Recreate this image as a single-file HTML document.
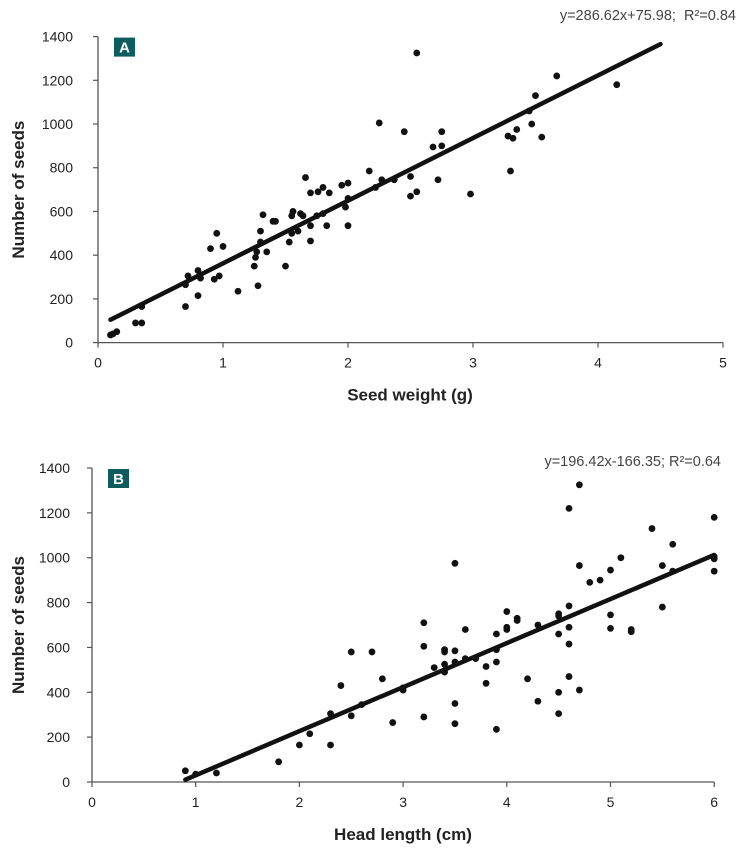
<!DOCTYPE html>
<html><head><meta charset="utf-8"><style>
body{margin:0;background:#fff;width:750px;height:846px;overflow:hidden}
svg{font-family:"Liberation Sans",sans-serif}
</style></head><body>
<svg id="chart" width="750" height="846" viewBox="0 0 750 846" xmlns="http://www.w3.org/2000/svg"></svg>
<script>
const ticksAX=[0,1,2,3,4,5];
const ticksY=[0,200,400,600,800,1000,1200,1400];
const ticksBX=[0,1,2,3,4,5,6];
const aWeight=[0.1,0.12,0.15,0.3,0.35,0.35,0.7,0.7,0.72,0.8,0.8,0.82,0.9,0.95,0.93,0.97,1.0,1.12,1.25,1.26,1.27,1.28,1.3,1.3,1.32,1.35,1.4,1.42,1.5,1.53,1.55,1.56,1.55,1.6,1.62,1.64,1.66,1.7,1.7,1.7,1.75,1.76,1.8,1.8,1.83,1.85,1.95,1.98,2.0,2.0,2.0,2.17,2.22,2.25,2.27,2.37,2.45,2.5,2.5,2.55,2.55,2.68,2.72,2.75,2.75,2.98,3.28,3.3,3.32,3.35,3.45,3.47,3.5,3.55,3.67,4.15];
const aSeeds=[35,40,50,90,90,165,165,265,305,215,330,295,430,500,290,305,440,235,350,390,415,260,460,510,585,415,555,555,350,460,500,600,580,510,590,580,755,465,535,685,580,690,710,590,535,685,720,620,535,660,730,785,710,1005,745,745,965,670,760,690,1325,895,745,965,900,680,945,785,935,975,1060,1000,1130,940,1220,1180];
const bLength=[0.9,1.0,1.2,1.8,2.0,2.1,2.3,2.3,2.4,2.5,2.5,2.6,2.7,2.8,2.9,3.0,3.0,3.2,3.2,3.2,3.3,3.4,3.4,3.4,3.4,3.5,3.5,3.5,3.5,3.5,3.6,3.6,3.7,3.8,3.8,3.9,3.9,3.9,3.9,4.0,4.0,4.0,4.1,4.1,4.2,4.3,4.3,4.5,4.5,4.5,4.5,4.5,4.6,4.6,4.6,4.6,4.6,4.7,4.7,4.7,4.8,4.9,5.0,5.0,5.0,5.1,5.2,5.2,5.4,5.5,5.5,5.6,5.6,6.0,6.0,6.0,6.0];
const bSeeds=[50,35,40,90,165,215,165,305,430,580,295,345,580,460,265,410,420,710,605,290,510,580,590,525,490,975,585,535,350,260,680,550,550,515,440,660,590,535,235,760,680,690,720,730,460,700,360,750,740,660,400,305,1220,785,690,615,470,1325,965,410,890,900,945,745,685,1000,680,670,1130,965,780,1060,940,1180,1005,995,940];
const fitA=[286.62,75.98], fitB=[196.42,-166.35];
const rangeA=[0.1,4.5], rangeB=[0.9,6];

const svg=document.getElementById('chart');
const NS='http://www.w3.org/2000/svg';
function mk(tag,attrs,parent){const e=document.createElementNS(NS,tag);for(const k in attrs)e.setAttribute(k,attrs[k]);(parent||svg).appendChild(e);return e;}

function panel(cfg){
  const g=mk('g',{});
  
  
  const sx=v=>cfg.x0+v*cfg.xs, sy=v=>cfg.y0-v*cfg.ys;
  const xMax=cfg.xt[cfg.xt.length-1];
  const ya=mk('line',{x1:cfg.x0,y1:sy(1400),x2:cfg.x0,y2:cfg.y0,stroke:'#555','stroke-width':1.3},g);
  
  const xa=mk('line',{x1:cfg.x0,y1:cfg.y0,x2:sx(xMax),y2:cfg.y0,stroke:'#555','stroke-width':1.3},g);
  
  ticksY.forEach(t=>{
    mk('line',{x1:cfg.x0-5,y1:sy(t),x2:cfg.x0,y2:sy(t),stroke:'#555','stroke-width':1.2},g);
    const tx=mk('text',{x:cfg.x0-cfg.yoff,y:sy(t)+5,'text-anchor':'end','font-size':14,fill:'#222'},g);
    tx.textContent=t;
    
  });
  cfg.xt.forEach(t=>{
    mk('line',{x1:sx(t),y1:cfg.y0,x2:sx(t),y2:cfg.y0+5,stroke:'#555','stroke-width':1.2},g);
    const tx=mk('text',{x:sx(t),y:cfg.y0+25,'text-anchor':'middle','font-size':14,fill:'#222'},g);
    tx.textContent=t;
    
  });
  const xt=mk('text',{x:cfg.xtx,y:cfg.y0+58,'text-anchor':'middle','font-size':17,'font-weight':'bold',fill:'#222'},g);
  xt.textContent=cfg.xtitle;
  const cy=(sy(1400)+cfg.y0)/2;
  const yt=mk('text',{x:24,y:cy,'text-anchor':'middle','font-size':17,'font-weight':'bold',fill:'#222',transform:`rotate(-90 24 ${cy})`},g);
  yt.textContent='Number of seeds';
  const bg=mk('g',{},g);
  mk('rect',{x:cfg.x0+16,y:sy(1400)+1,width:21,height:19,fill:'#0d5c5e'},bg);
  const bt=mk('text',{x:cfg.x0+26.5,y:sy(1400)+16,'text-anchor':'middle','font-size':15,'font-weight':'bold',fill:'#fff'},bg);
  bt.textContent=cfg.letter;
  const eq=mk('text',{x:cfg.eqx,y:cfg.eqy,'text-anchor':'end','font-size':14.5,fill:'#444'},g);
  eq.textContent=cfg.eq;
  cfg.xs_.forEach((v,i)=>{
    const c=mk('circle',{cx:sx(v),cy:sy(cfg.ys_[i]),r:3.4,fill:'#111'},g);
    
    
  });
  const [m,b]=cfg.fit,[a1,a2]=cfg.range;
  const tl=mk('line',{x1:sx(a1),y1:sy(m*a1+b),x2:sx(a2),y2:sy(m*a2+b),stroke:'#111','stroke-width':4.5,'stroke-linecap':'round'},g);
  
}
panel({name:'panel-a',letter:'A',x0:98,y0:342.6,xs:125,ys:306/1400,yoff:25,xt:ticksAX,xs_:aWeight,ys_:aSeeds,fit:fitA,range:rangeA,xtitle:'Seed weight (g)',xtx:410,eq:'y=286.62x+75.98;\u00a0 R²=0.84',eqx:736,eqy:20});
panel({name:'panel-b',letter:'B',x0:92,y0:782,xs:103.7,ys:314/1400,yoff:22,xt:ticksBX,xs_:bLength,ys_:bSeeds,fit:fitB,range:rangeB,xtitle:'Head length (cm)',xtx:403,eq:'y=196.42x-166.35; R²=0.64',eqx:721,eqy:466});
</script>
</body></html>
